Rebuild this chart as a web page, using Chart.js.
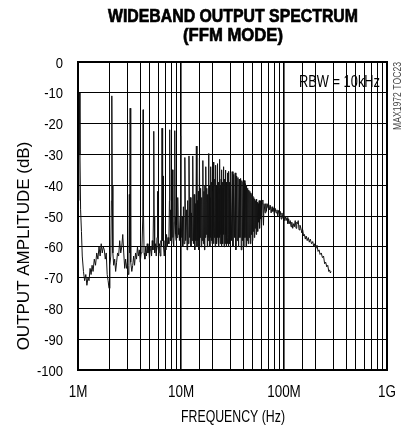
<!DOCTYPE html>
<html><head><meta charset="utf-8">
<script src="https://cdn.jsdelivr.net/npm/chart.js@4.4.0/dist/chart.umd.min.js"></script>
<style>html,body{margin:0;padding:0;background:#fff}#wrap{width:411px;height:430px}</style>
</head><body><div id="wrap"><canvas id="c" width="411" height="430"></canvas></div>
<script>
// ---- data (frequency in MHz, level in dB) ----
const lowBandTrace = [
 [1.01,-45],[1.02,-12],[1.03,-10],[1.045,-30],[1.06,-48],[1.08,-55],[1.10,-63],[1.13,-68],[1.16,-71],[1.19,-69],
 [1.22,-72.5],[1.25,-70],[1.28,-71],[1.31,-67],[1.34,-69],[1.37,-66],[1.40,-68],[1.44,-64],[1.48,-66],[1.52,-62],
 [1.56,-64],[1.60,-60],[1.64,-63],[1.68,-59],[1.72,-62],[1.76,-60],[1.80,-61],[1.84,-64],[1.88,-62],[1.92,-69],
 [1.96,-71],[2.00,-73.5],[2.04,-66],[2.08,-63],[2.11,-45],[2.13,-11],[2.15,-40],[2.18,-62],[2.22,-66],[2.27,-64],
 [2.32,-68],[2.37,-65],[2.42,-62],[2.48,-63],[2.54,-58],[2.60,-62],[2.66,-60],[2.72,-56],[2.78,-62],[2.84,-67],
 [2.90,-64],[2.96,-67],[3.02,-65],[3.08,-69],[3.12,-66],[3.15,-43],[3.17,-62],[3.19,-48],[3.21,-15],[3.23,-45],
 [3.27,-65],[3.33,-68],[3.40,-66],[3.47,-63],[3.54,-66],[3.62,-62],[3.70,-64],[3.78,-60],[3.86,-63],[3.94,-61],
 [4.02,-65],[4.10,-62],[4.18,-60],[4.26,-50],[4.29,-15.5],[4.32,-48],[4.38,-62],[4.46,-64],[4.54,-60],[4.62,-63],
 [4.70,-59],[4.78,-62],[4.86,-60],[4.94,-64],[5.02,-61],[5.10,-60],[5.18,-63],[5.26,-58],[5.34,-61],[5.40,-50],
 [5.44,-22.5],[5.48,-50],[5.55,-62],[5.65,-59],[5.75,-63],[5.85,-57],[5.92,-42],[5.98,-60],[6.08,-62],[6.18,-59],
 [6.28,-63],[6.38,-58],[6.48,-60],[6.54,-21.5],[6.60,-50],[6.66,-58],[6.70,-37],[6.76,-60],[6.88,-63],[7.00,-58],
 [7.12,-61],[7.24,-56],[7.36,-60],[7.48,-57],[7.62,-59],[7.72,-45],[7.77,-22],[7.82,-48],[7.90,-58],[8.00,-55],
 [8.10,-59],[8.25,-35],[8.35,-57],[8.50,-60],[8.62,-52],[8.70,-22.3],[8.78,-50],[8.86,-56],[8.95,-58],[9.05,-53],
 [9.15,-57],[9.25,-52],[9.35,-44],[9.45,-56],[9.55,-54],[9.65,-58],[9.78,-50],[9.87,-24],[9.95,-50]
];
const denseBandTrace = [
 [10.05,-57],[10.25,-50],[10.4,-60],[10.55,-47],[10.7,-59],[10.9,-31],
 [11.1,-58],[11.3,-48],[11.45,-61],[11.6,-45],[11.78,-59],[11.95,-30.5],
 [12.15,-57],[12.35,-44],[12.5,-60],[12.65,-49],[12.82,-58],[13.0,-30.5],
 [13.2,-59],[13.4,-43],[13.6,-61],[13.75,-46],[13.92,-58],[14.1,-27.3],
 [14.3,-60],[14.45,-45],[14.6,-58],[14.75,-42],[14.92,-61],[15.1,-31.2],
 [15.3,-57],[15.5,-41],[15.7,-60],[15.9,-44],[16.1,-58],[16.3,-32],
 [16.5,-59],[16.7,-42],[16.9,-61],[17.05,-40],[17.22,-57],[17.4,-34],
 [17.6,-56],[17.8,-41],[18.0,-60],[18.15,-43],[18.32,-58],[18.5,-29.7],
 [18.7,-57],[18.88,-40],[19.05,-60],[19.2,-44],[19.35,-57],[19.5,-34],
 [19.7,-58],[19.88,-39],[20.05,-59],[20.2,-42],[20.35,-56],[20.5,-32.5],
 [20.7,-59],[20.9,-41],[21.1,-57],[21.3,-38],[21.5,-60],[21.7,-33.5],
 [21.9,-56],[22.05,-40],[22.25,-59],[22.4,-42],[22.55,-57],[22.7,-33],
 [22.9,-58],[23.1,-39],[23.3,-60],[23.45,-41],[23.62,-57],[23.8,-31.6],
 [24.0,-59],[24.2,-40],[24.4,-56],[24.55,-38],[24.72,-60],[24.9,-35],
 [25.1,-57],[25.3,-39],[25.5,-59],[25.65,-41],[25.82,-56],[26.0,-34],
 [26.2,-60],[26.4,-38],[26.55,-57],[26.7,-40],[26.85,-59],[27.0,-35.1],
 [27.2,-56],[27.4,-39],[27.6,-60],[27.8,-41],[28.0,-57],[28.2,-36],
 [28.4,-59],[28.55,-38],[28.7,-56],[28.85,-40],[29.0,-60],[29.2,-35.5],
 [29.4,-57],[29.6,-39],[29.8,-59],[29.95,-41],[30.1,-58],[30.3,-36],
 [30.85,-58],[31.4,-35.6],[31.95,-60],[32.5,-36.5],[33.05,-57],[33.6,-36],[34.1,-61],[34.7,-37],[35.2,-58],[35.7,-37.5],
 [36.25,-60],[36.8,-38],[37.35,-57],[37.9,-37.8],[38.45,-61],[39.0,-38.5],[39.55,-58],[40.1,-39],[40.65,-60],[41.2,-38.5],
 [41.75,-57],[42.3,-39.5],[42.8,-60],[43.3,-40],[43.85,-58],[44.4,-41],[44.95,-59],[45.5,-41.6],[46.05,-57],[46.6,-42],
 [47.15,-59],[47.7,-42.5],[48.25,-56],[48.8,-43],[49.3,-58],[49.8,-43.5],[50.35,-55],[50.9,-44],[51.45,-57],[52.0,-44.5],
 [52.55,-54],[53.1,-45],[53.65,-56],[54.2,-44.5],[54.75,-53],[55.3,-45.5],[55.8,-55],[56.3,-46],[56.85,-52],[57.4,-45],
 [57.95,-54],[58.5,-46],[59.05,-51],[59.6,-45]
];
const tailBandTrace = [
 [60.5,-54],[61.3,-46],[62.3,-44.8],[63.2,-53],[64.0,-46],[65.5,-49],[66.5,-46],[67.5,-48.5],[68.5,-46],[70,-47.5],
 [71,-46.3],[72.3,-48],[73.5,-46.5],[75,-49],[76.5,-47],[77.8,-48.5],[79,-47.5],[80.5,-49.5],[82,-47.5],[83.8,-49],
 [85.5,-48],[87,-50],[88.5,-48.2],[90.2,-49.5],[92,-48.5],[94,-51],[95.5,-49],[97.2,-50.5],[99,-49.5],[101,-51.5],
 [103,-50],[104.7,-51.5],[107,-50.5],[109,-52.5],[111,-51],[112.7,-52.5],[115,-51.5],[117,-53.5],[119,-52],[121.5,-54],
 [124,-52.5],[126,-53.5],[128.5,-51.5],[131,-54],[133,-52],[135,-52.5],[137.5,-51.5],[140,-54.5],[143,-53],[146,-54],
 [149,-55.5],[152,-54.5],[155,-56.5],[158,-56],[161,-57.5],[164,-56.5],[168,-58],[172,-57],[176,-58.5],[180,-57.5],
 [185,-59],[190,-58.3],[195,-60],[199,-59],[204,-60.5],[209,-59.5],[214,-61.5],[219,-61],[224,-62.5],[230,-62],
 [236,-63.5],[242,-63],[248,-65.5],[254,-65],[260,-66.5],[266,-66],[272,-68],[277,-67.5],[282,-68.5],[286,-68]
];
const xDecades = [1, 10, 100, 1000];
const xDecadeLabels = ['1M', '10M', '100M', '1G'];
const yTickValues = [0,-10,-20,-30,-40,-50,-60,-70,-80,-90,-100];

const FAM = "'Liberation Sans',Arial,sans-serif";
const points = lowBandTrace.concat(denseBandTrace, tailBandTrace).map(p => ({x: p[0], y: p[1]}));
const isDecade = v => xDecades.some(d => Math.abs(d - v) < 1e-9 * d);

function condText(ctx, s, x, y, font, align, sx) {
  ctx.save();
  ctx.translate(x, y); ctx.scale(sx, 1);
  ctx.font = font; ctx.textAlign = align; ctx.textBaseline = 'alphabetic';
  ctx.fillText(s, 0, 0);
  ctx.restore();
}

const textPlugin = {
  id: 'texts',
  afterDraw(chart) {
    const ctx = chart.ctx, a = chart.chartArea;
    const xs = chart.scales.x, ys = chart.scales.y;
    ctx.save();
    ctx.strokeStyle = '#000'; ctx.lineWidth = 2;
    ctx.strokeRect(a.left, a.top, a.right - a.left, a.bottom - a.top);
    ctx.fillStyle = '#000';
    // tick labels through the library scales
    xDecades.forEach((d, i) => condText(ctx, xDecadeLabels[i], xs.getPixelForValue(d), 397, "16px " + FAM, 'center', 0.84));
    yTickValues.forEach(v => condText(ctx, String(v), 63, ys.getPixelForValue(v) + 5.5, "15.5px " + FAM, 'right', 0.84));
    // title
    ctx.textAlign = 'center'; ctx.textBaseline = 'alphabetic';
    ctx.font = "bold 19px " + FAM;
    ctx.lineWidth = 0.7; ctx.strokeStyle = '#000';
    ctx.fillText('WIDEBAND OUTPUT SPECTRUM', 233, 22, 250);
    ctx.strokeText('WIDEBAND OUTPUT SPECTRUM', 233, 22, 250);
    ctx.fillText('(FFM MODE)', 233, 41, 100);
    ctx.strokeText('(FFM MODE)', 233, 41, 100);
    ctx.font = "16px " + FAM;
    ctx.fillText('FREQUENCY (Hz)', 233, 422, 104);
    ctx.textAlign = 'right';
    ctx.fillText('RBW = 10kHz', 380, 87, 81);
    ctx.save();
    ctx.translate(29, 246); ctx.rotate(-Math.PI / 2);
    ctx.textAlign = 'center';
    ctx.font = "17px " + FAM;
    ctx.fillText('OUTPUT AMPLITUDE (dB)', 0, 0, 217);
    ctx.restore();
    ctx.save();
    ctx.translate(401, 96); ctx.rotate(-Math.PI / 2);
    ctx.textAlign = 'center'; ctx.fillStyle = '#444';
    ctx.font = "10px " + FAM;
    ctx.fillText('MAX1972 TOC23', 0, 0, 68);
    ctx.restore();
    ctx.restore();
  }
};

new Chart(document.getElementById('c'), {
  type: 'line',
  data: { datasets: [{ data: points, borderColor: '#111', borderWidth: 1, pointRadius: 0, tension: 0, fill: false }] },
  options: {
    responsive: false, animation: false, devicePixelRatio: 1,
    layout: { padding: { top: 62, right: 24, left: 0, bottom: 0 } },
    plugins: { legend: { display: false }, tooltip: { enabled: false }, title: { display: false } },
    scales: {
      x: {
        type: 'logarithmic', min: 1, max: 1000,
        afterFit(s) { s.height = 60; },
        ticks: { display: false, autoSkip: false, maxRotation: 0 },
        grid: { color: '#000', drawTicks: false, lineWidth(c) { return c.tick && isDecade(c.tick.value) ? 1.6 : 1; } },
        border: { display: false }
      },
      y: {
        min: -100, max: 0,
        afterFit(s) { s.width = 78; },
        afterBuildTicks(s) { s.ticks = yTickValues.map(v => ({ value: v })); },
        ticks: { display: false },
        grid: { color: '#000', drawTicks: false, lineWidth: 1 },
        border: { display: false }
      }
    }
  },
  plugins: [textPlugin]
});
</script></body></html>
